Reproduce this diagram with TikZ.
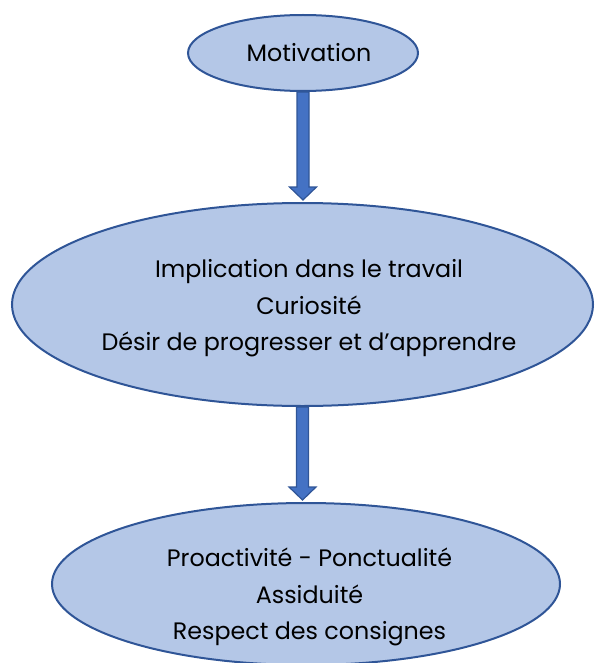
\documentclass[tikz,border=0pt]{standalone}
\usepackage{fontspec}
\setmainfont{Poppins}
\usetikzlibrary{shapes.geometric,calc}
\definecolor{ellfill}{HTML}{B4C7E7}
\definecolor{ellline}{HTML}{2F5597}
\definecolor{arrfill}{HTML}{4472C4}
\tikzset{
  ell/.style={ellipse, draw=ellline, fill=ellfill, line width=2pt, inner sep=0pt},
  txt/.style={align=center, font=\fontsize{23.8}{36.5}\selectfont, text=black, inner sep=0pt},
  blockarrow/.style={draw=ellline, fill=arrfill, line width=1.2pt, line join=miter}
}
\newcommand{\myblockarrow}[2]{%
  \path[blockarrow] let \p1=(#1.south), \p2=(#2.north) in
    (\x1-6pt,\y1) -- (\x1-6pt,\y2+15pt) -- (\x1-13.5pt,\y2+15pt) -- (\x1,\y2+2pt)
    -- (\x1+13.5pt,\y2+15pt) -- (\x1+6pt,\y2+15pt) -- (\x1+6pt,\y1) -- cycle;}
\begin{document}
\begin{tikzpicture}[x=1pt,y=-1pt]
\useasboundingbox (0,0) rectangle (595,663);
\clip (0,0) rectangle (595,663);
\node[ell, minimum width=230pt, minimum height=76pt] (mot) at (303,53) {};
\node[txt] (mottext) at ($(mot.center)+(6,0)$) {Motivation};
\node[ell, minimum width=581pt, minimum height=203pt] (impl) at (302.5,304.5) {};
\node[txt] (impltext) at ($(impl.center)+(6.5,4)$)
  {Implication dans le travail\\Curiosité\\Désir de progresser et d’apprendre};
\node[ell, minimum width=508pt, minimum height=162pt] (proa) at (306,584) {};
\node[txt] (proatext) at ($(proa.center)+(3.5,13)$)
  {Proactivité - Ponctualité\\Assiduité\\Respect des consignes};
\myblockarrow{mot}{impl}
\myblockarrow{impl}{proa}
\end{tikzpicture}
\end{document}
